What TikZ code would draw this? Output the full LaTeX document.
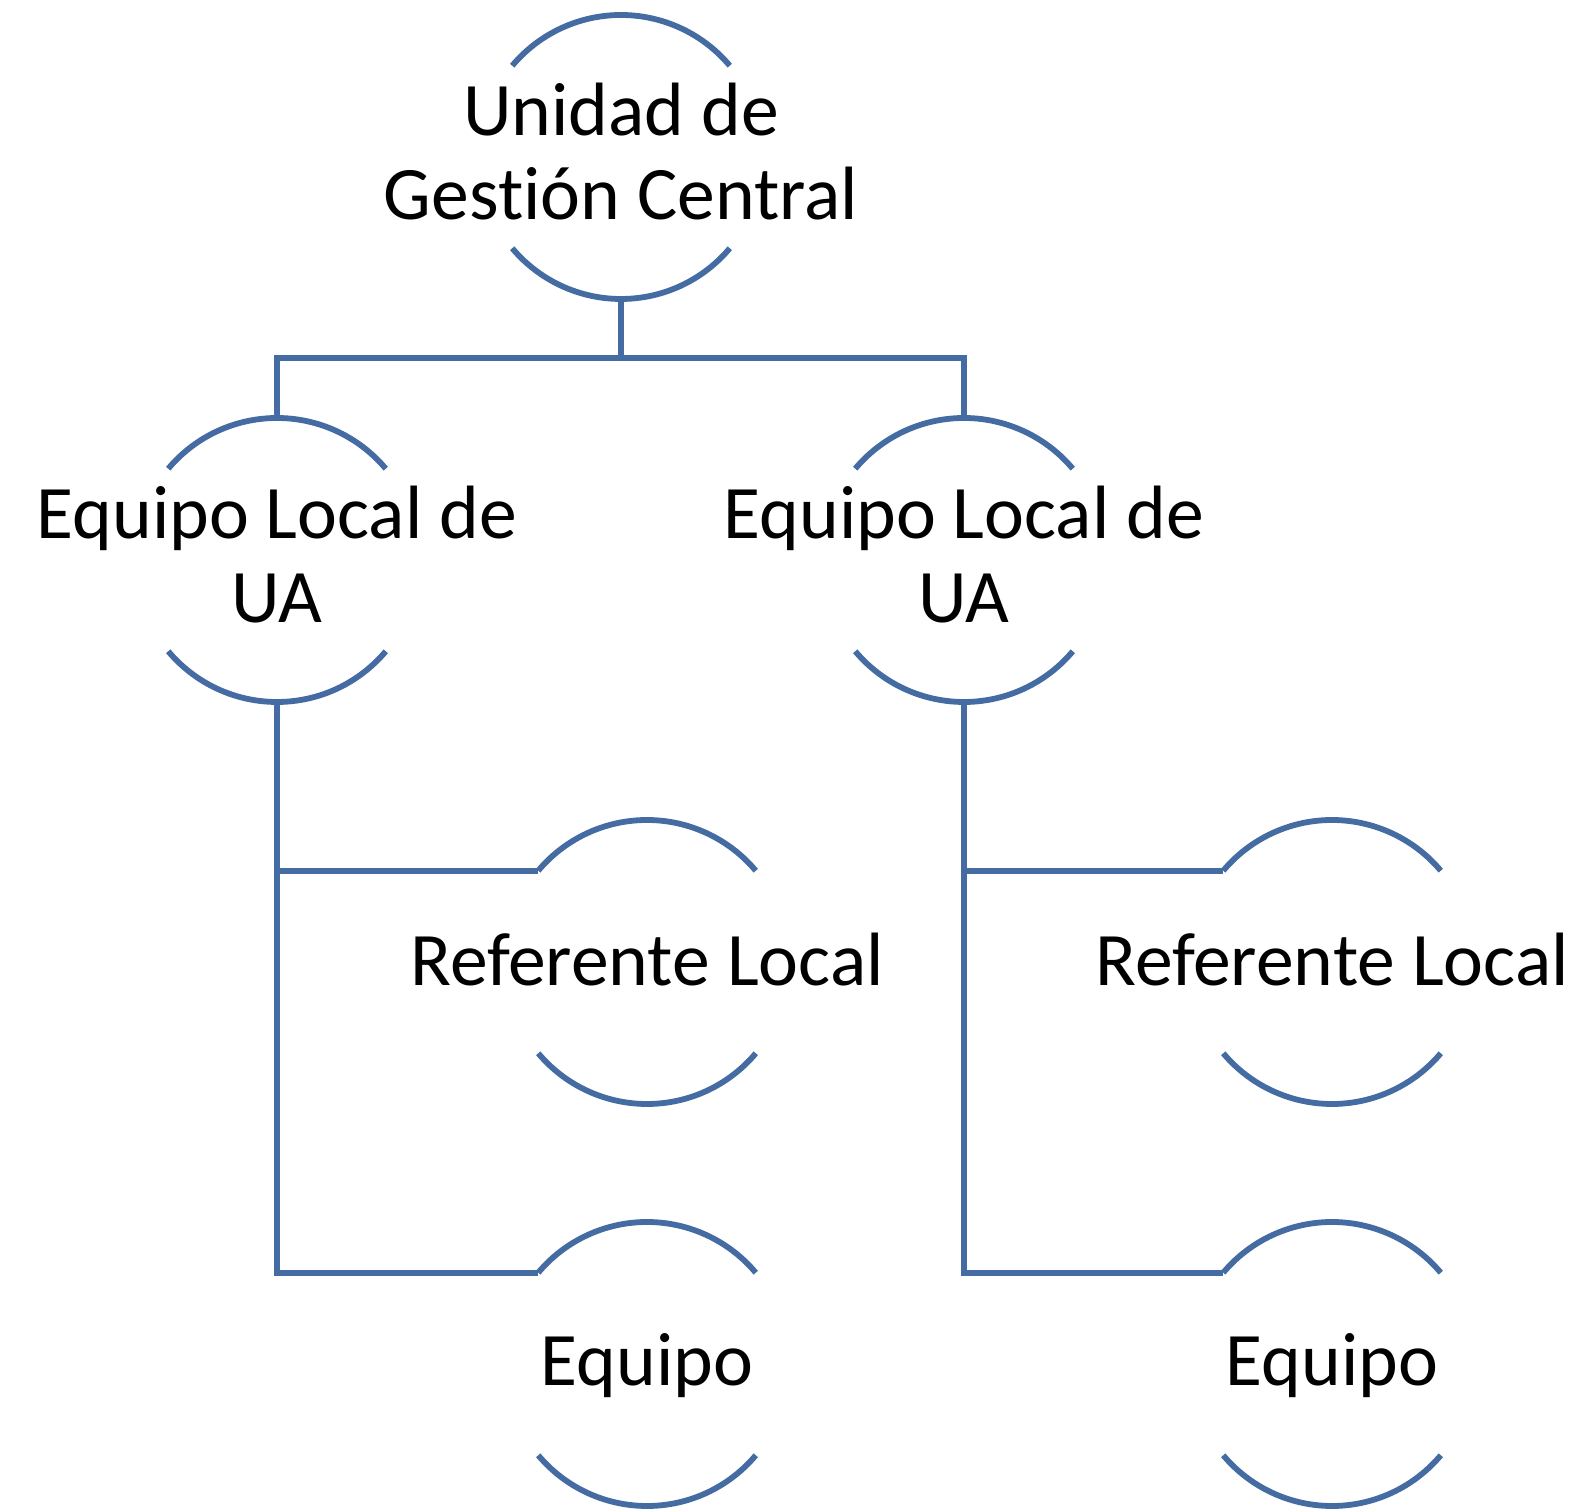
\documentclass[tikz,border=0pt]{standalone}
\usepackage{fontspec}
\setmainfont{Carlito}[Ligatures=NoCommon]
\usepackage{tikz}
\definecolor{orgblue}{RGB}{68,108,163}

\begin{document}
\begin{tikzpicture}[x=0.5pt,y=0.5pt,
  ring/.style={circle,minimum size=142pt,inner sep=0pt,outer sep=0pt},
  txt/.style={align=center,inner sep=0pt,font=\fontsize{37.8}{42}\selectfont},
  rim/.style={draw=orgblue,line width=2.9pt},
  link/.style={draw=orgblue,line width=2.9pt}]
\useasboundingbox (0,0) rectangle (1584,1509);
% rings
\node[ring] (ugc) at (621,1352) {};
\node[ring] (ela) at (277,949) {};
\node[ring] (elb) at (964,949) {};
\node[ring] (rla) at (647,547) {};
\node[ring] (rlb) at (1332,547) {};
\node[ring] (eqa) at (647,145) {};
\node[ring] (eqb) at (1332,145) {};
% arcs above and below each text
\foreach \n in {ugc,ela,elb,rla,rlb,eqa,eqb} {
  \draw[rim] (\n.40) arc[start angle=40,end angle=140,radius=71pt];
  \draw[rim] (\n.220) arc[start angle=220,end angle=320,radius=71pt];
}
% texts
\node[txt,yshift=2.5pt] (ugc-t) at (ugc) {Unidad de\\Gestión Central};
\node[txt,yshift=2.5pt] (ela-t) at (ela) {Equipo Local de\\UA};
\node[txt,yshift=2.5pt] (elb-t) at (elb) {Equipo Local de\\UA};
\node[txt,yshift=1pt] (rla-t) at (rla) {Referente Local};
\node[txt,yshift=1pt] (rlb-t) at (rlb) {Referente Local};
\node[txt,yshift=-1pt] (eqa-t) at (eqa) {Equipo};
\node[txt,yshift=-1pt] (eqb-t) at (eqb) {Equipo};
% connectors
\draw[link] (ugc.south) -- ++(0,-59) coordinate (bus);
\draw[link] (ela.north) |- (bus) -| (elb.north);
\draw[link] (ela.south) |- (eqa.140);
\draw[link] (ela.south |- rla.140) -- (rla.140);
\draw[link] (elb.south) |- (eqb.140);
\draw[link] (elb.south |- rlb.140) -- (rlb.140);
\end{tikzpicture}
\end{document}
